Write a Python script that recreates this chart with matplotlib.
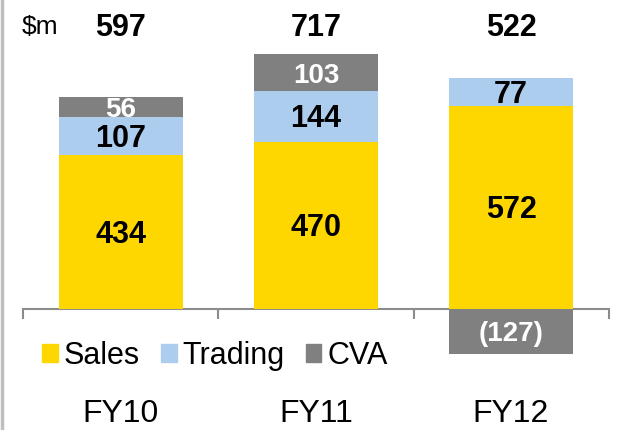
import matplotlib
matplotlib.use('Agg')
import matplotlib.pyplot as plt
from matplotlib.lines import Line2D
from matplotlib.patches import Patch
import numpy as np

plt.rcParams['font.family'] = ['Liberation Sans', 'DejaVu Sans']

years = ['FY10', 'FY11', 'FY12']
sales = [434, 470, 572]
trading = [107, 144, 77]
cva = [56, 103, -127]
totals = [597, 717, 522]
cva_labels = ['56', '103', '(127)']

c_sales = '#FFD700'
c_trading = '#ADCDEF'
c_cva = '#808080'

fig = plt.figure(figsize=(6.23, 4.30), dpi=100)
ax = fig.add_axes([0, 0, 1, 1])

x = np.arange(len(years))
w = 0.64
sales = np.array(sales)
trading = np.array(trading)
cva = np.array(cva)
cva_bottom = np.where(cva > 0, sales + trading, 0)

ax.set_xlim(-0.62, 2.574)
ax.set_ylim(-341, 870)
px_per_unit = 430 / (870 + 341)


def label(xc, yc, s, fs, **kw):
    # centre the cap height (digits) on yc
    half = 0.5 * 0.716 * fs * 100 / 72 / px_per_unit
    ax.text(xc, yc - half, s, ha='center', va='baseline', fontsize=fs, **kw)


ax.bar(x, sales, w, color=c_sales, zorder=2)
ax.bar(x, trading, w, bottom=sales, color=c_trading, zorder=2)
ax.bar(x, cva, w, bottom=cva_bottom, color=c_cva, zorder=2)

for i in range(len(years)):
    label(x[i], sales[i] / 2, str(sales[i]), 22, fontweight='bold', color='black', zorder=3)
    label(x[i], sales[i] + trading[i] / 2, str(trading[i]), 22, fontweight='bold',
          color='black', zorder=3)
    label(x[i], cva_bottom[i] + cva[i] / 2, cva_labels[i], 20, fontweight='bold',
          color='white', zorder=3)
    label(x[i], 800, str(totals[i]), 22, fontweight='bold', color='black')
    label(x[i], -285, years[i], 23, color='black')

label(-0.415, 800, '$m', 19, color='black')

# axis line with tick marks at category boundaries
for s in ['top', 'right', 'left']:
    ax.spines[s].set_visible(False)
ax.spines['bottom'].set_position(('data', 0))
ax.spines['bottom'].set_bounds(-0.5, 2.5)
ax.spines['bottom'].set_color('#8C8C8C')
ax.spines['bottom'].set_linewidth(1.5)
ax.spines['bottom'].set_zorder(1)
ax.set_xticks([-0.5, 0.5, 1.5, 2.5])
ax.set_xticklabels([])
ax.tick_params(axis='x', direction='out', length=7, width=1.5, color='#8C8C8C')
ax.set_yticks([])

handles = [Patch(color=c_sales), Patch(color=c_trading), Patch(color=c_cva)]
ax.legend(handles, ['Sales', 'Trading', 'CVA'], loc='center left',
          bbox_to_anchor=(0.068, 0.172), ncol=3, frameon=False, fontsize=22,
          handlelength=0.5, handleheight=0.5, handletextpad=0.2,
          columnspacing=0.7, borderpad=0, borderaxespad=0)

# left border line
fig.add_artist(Line2D([0.004, 0.004], [0, 1], transform=fig.transFigure,
                      color='#BFBFBF', linewidth=2.5))

fig.savefig('out.png', dpi=100)
